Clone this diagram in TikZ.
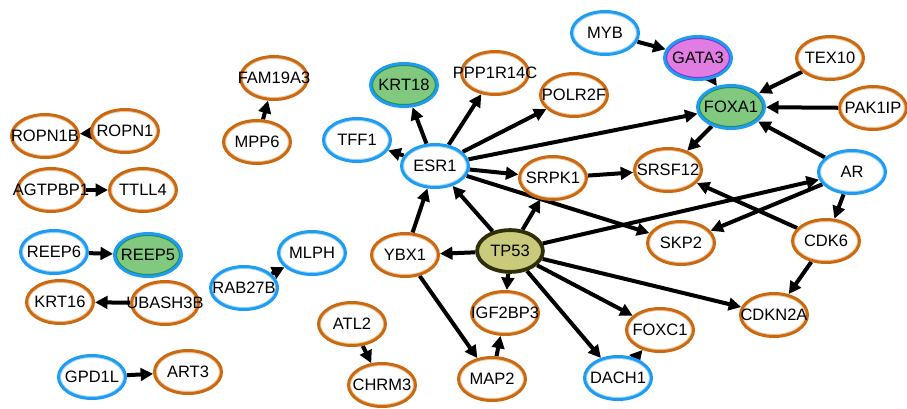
\documentclass[tikz,border=0pt]{standalone}
\usepackage{fontspec}
\setmainfont{Liberation Sans}
\usetikzlibrary{arrows.meta,backgrounds,shapes.geometric}
\definecolor{orgOut}{HTML}{C96A12}
\definecolor{orgIn}{HTML}{F2C9A2}
\definecolor{bluOut}{HTML}{1E9CF2}
\definecolor{bluIn}{HTML}{A6D6F8}
\definecolor{grnFill}{HTML}{80C97F}
\definecolor{grnIn}{HTML}{1F8A5C}
\definecolor{vioFill}{HTML}{E07CE2}
\definecolor{vioIn}{HTML}{7A35C8}
\definecolor{khaFill}{HTML}{CACA7C}
\definecolor{khaOut}{HTML}{2E2E08}
% gene labels keep a fixed ellipse size and may run past the border
\newcommand\genename[1]{\makebox[0pt]{#1}}
\begin{document}
\begin{tikzpicture}[x=1pt,y=-1pt,
  gene/.style n args={3}{ellipse, minimum width=67pt, minimum height=43pt,
    inner sep=0pt, line width=3pt, draw=#1, fill=#3,
    font=\fontsize{16.5}{18}\selectfont,
    path picture={\draw[#2,line width=5pt] (path picture bounding box.center)
      ellipse [x radius=33.5pt,y radius=21.5pt];}},
  orgnode/.style={gene={orgOut}{orgIn}{white}},
  blunode/.style={gene={bluOut}{bluIn}{white}},
  grnnode/.style={gene={bluOut}{grnIn}{grnFill}},
  vionode/.style={gene={bluOut}{vioIn}{vioFill}},
  tpnode/.style={gene={khaOut}{khaOut}{khaFill}, line width=2.6pt},
  arr/.style={black, line width=4pt, -{Triangle[length=12.5pt,width=12.5pt]}}]
\useasboundingbox (0,0) rectangle (907,408);

% isolated pairs on the left
\node[orgnode] (ropn1b) at (45,136) {\genename{ROPN1B}};
\node[orgnode] (ropn1) at (125,131) {\genename{ROPN1}};
\node[orgnode] (fam19a3) at (274,78) {\genename{FAM19A3}};
\node[orgnode] (mpp6) at (257,142) {\genename{MPP6}};
\node[orgnode] (agtpbp1) at (51,190) {\genename{AGTPBP1}};
\node[orgnode] (ttll4) at (143,190) {\genename{TTLL4}};
\node[blunode] (reep6) at (54,252) {\genename{REEP6}};
\node[grnnode] (reep5) at (148,255) {\genename{REEP5}};
\node[orgnode] (krt16) at (60,302) {\genename{KRT16}};
\node[orgnode] (ubash3b) at (165,303) {\genename{UBASH3B}};
\node[blunode] (rab27b) at (244,288) {\genename{RAB27B}};
\node[blunode] (mlph) at (312,253) {\genename{MLPH}};
\node[blunode] (gpd1l) at (92,377) {\genename{GPD1L}};
\node[orgnode] (art3) at (188,372) {\genename{ART3}};
\node[orgnode] (atl2) at (352,324) {\genename{ATL2}};
\node[orgnode] (chrm3) at (382,385) {\genename{CHRM3}};

% main network
\node[blunode] (esr1) at (435,166) {\genename{ESR1}};
\node[blunode] (tff1) at (357,140) {\genename{TFF1}};
\node[grnnode] (krt18) at (404,85) {\genename{KRT18}};
\node[orgnode] (ppp1r14c) at (495,73) {\genename{PPP1R14C}};
\node[orgnode] (polr2f) at (574,95) {\genename{POLR2F}};
\node[orgnode] (srpk1) at (553,178) {\genename{SRPK1}};
\node[blunode] (myb) at (605,33) {\genename{MYB}};
\node[vionode] (gata3) at (698,58) {\genename{GATA3}};
\node[orgnode] (tex10) at (830,58) {\genename{TEX10}};
\node[grnnode] (foxa1) at (731,107) {\genename{FOXA1}};
\node[orgnode] (pak1ip) at (873,108) {\genename{PAK1IP}};
\node[orgnode] (srsf12) at (668,170) {\genename{SRSF12}};
\node[blunode] (ar) at (852,172) {\genename{AR}};
\node[orgnode] (skp2) at (681,243) {\genename{SKP2}};
\node[orgnode] (cdk6) at (826,241) {\genename{CDK6}};
\node[orgnode] (cdkn2a) at (774,315) {\genename{CDKN2A}};
\node[orgnode] (foxc1) at (660,330) {\genename{FOXC1}};
\node[blunode] (dach1) at (618,378) {\genename{DACH1}};
\node[tpnode] (tp53) at (510,251) {\genename{TP53}};
\node[orgnode] (ybx1) at (405,255) {\genename{YBX1}};
\node[orgnode] (igf2bp3) at (505,313) {\genename{IGF2BP3}};
\node[orgnode] (map2) at (492,379) {\genename{MAP2}};

\begin{scope}[on background layer]
\fill[white] (0,0) rectangle (907,408);
\draw[arr] (ropn1) -- (ropn1b);
\draw[arr] (mpp6) -- (fam19a3);
\draw[arr] (agtpbp1) -- (ttll4);
\draw[arr] (reep6) -- (reep5);
\draw[arr] (ubash3b) -- (krt16);
\draw[arr] (rab27b) -- (mlph);
\draw[arr] (gpd1l) -- (art3);
\draw[arr] (atl2) -- (chrm3);
\draw[arr] (myb) -- (gata3);
\draw[arr] (gata3) -- (foxa1);
\draw[arr] (tex10) -- (foxa1);
\draw[arr] (pak1ip) -- (foxa1);
\draw[arr] (ar) -- (foxa1);
\draw[arr] (esr1) -- (foxa1);
\draw[arr] (foxa1) -- (srsf12);
\draw[arr] (esr1) -- (tff1);
\draw[arr] (esr1) -- (krt18);
\draw[arr] (esr1) -- (ppp1r14c);
\draw[arr] (esr1) -- (polr2f);
\draw[arr] (esr1) -- (srpk1);
\draw[arr] (esr1) -- (skp2);
\draw[arr] (srpk1) -- (srsf12);
\draw[arr] (ybx1) -- (esr1);
\draw[arr] (tp53) -- (esr1);
\draw[arr] (tp53) -- (srpk1);
\draw[arr] (tp53) -- (ybx1);
\draw[arr] (tp53) -- (igf2bp3);
\draw[arr] (tp53) -- (ar);
\draw[arr] (tp53) -- (cdkn2a);
\draw[arr] (tp53) -- (foxc1);
\draw[arr] (tp53) -- (dach1);
\draw[arr] (ar) -- (skp2);
\draw[arr] (ar) -- (cdk6);
\draw[arr] (cdk6) -- (srsf12);
\draw[arr] (cdk6) -- (cdkn2a);
\draw[arr] (ybx1) -- (map2);
\draw[arr] (map2) -- (igf2bp3);
\draw[arr] (dach1) -- (foxc1);
\end{scope}
\end{tikzpicture}
\end{document}
